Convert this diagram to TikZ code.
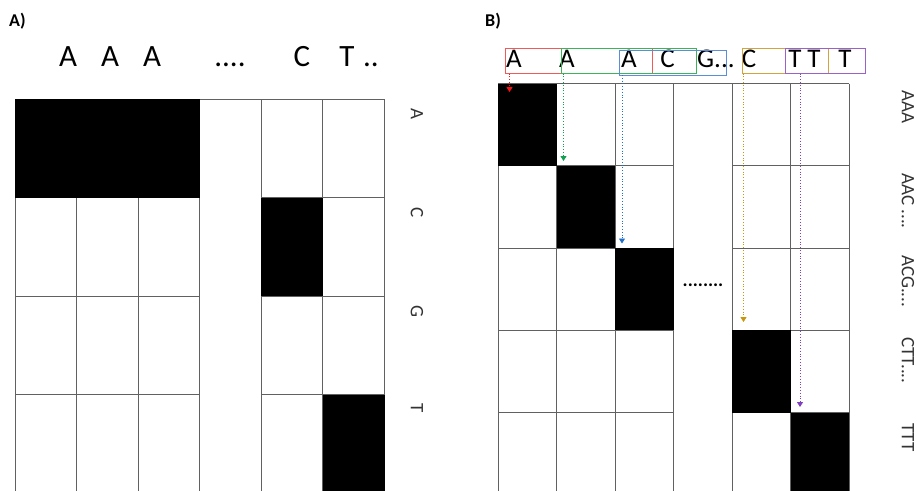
\documentclass[tikz,border=0pt]{standalone}
\usepackage{fontspec}
\setmainfont{Carlito}
\usetikzlibrary{arrows.meta}
\definecolor{bred}{HTML}{F05A5A}
\definecolor{bgreen}{HTML}{3CB45A}
\definecolor{bblue}{HTML}{5B8ED6}
\definecolor{borange}{HTML}{D4A43C}
\definecolor{bpurple}{HTML}{9A62C8}
\definecolor{ared}{HTML}{FF1010}
\definecolor{agreen}{HTML}{10A050}
\definecolor{ablue}{HTML}{2070C8}
\definecolor{aorange}{HTML}{C8960A}
\definecolor{apurple}{HTML}{7F3FBF}
\begin{document}
\begin{tikzpicture}[x=1pt,y=-1pt,
  gridline/.style={draw=black!62,line width=0.9pt},
  blk/.style={fill=black},
  seq/.style={font=\fontsize{27}{27}\selectfont,anchor=base,inner sep=0pt},
  toplbl/.style={font=\fontsize{31}{31}\selectfont,anchor=base,inner sep=0pt},
  sidel/.style={font=\fontsize{19}{19}\selectfont,rotate=-90,inner sep=0pt,text=black!80},
  panel/.style={font=\fontsize{18}{18}\selectfont\bfseries,anchor=base west,inner sep=0pt},
  ptr/.style={dotted,line width=0.8pt,-{Triangle[width=6pt,length=5pt]}},
  kbox/.style={line width=1pt}
]
\useasboundingbox (0,0) rectangle (917,490);
\clip (0,0) rectangle (917,490);
\fill[white] (0,0) rectangle (917,490);

% ---------- Panel A ----------
\node[panel] (pa) at (9,26.7) {A)};
\node[toplbl] (ta1) at (68,66.5) {A};
\node[toplbl] (ta2) at (110,66.5) {A};
\node[toplbl] (ta3) at (152,66.5) {A};
\node[toplbl] (tad) at (230,66.5) {....};
\node[toplbl] (tac) at (302,66.5) {C};
\node[toplbl] (tat) at (347,66.5) {T};
\node[toplbl] (tadd) at (371,66.5) {..};

\foreach \x in {15,76.5,138,199.5,261,322.5,384.5}
  \draw[gridline] (\x,99) -- (\x,495);
\draw[gridline] (15,99) -- (384.5,99);
\foreach \y in {197.5,296,394.5}{
  \draw[gridline] (15,\y) -- (199.5,\y);
  \draw[gridline] (261,\y) -- (384.5,\y);
}
\fill[blk] (15,99) rectangle (199.5,197.5);
\fill[blk] (261,197.5) rectangle (322.5,296);
\fill[blk] (322.5,394.5) rectangle (384.5,495);
\node[sidel] (la) at (417,114) {A};
\node[sidel] (lc) at (417,213) {C};
\node[sidel] (lg) at (417,311) {G};
\node[sidel] (lt) at (417,408) {T};

% ---------- Panel B ----------
\node[panel] (pb) at (485,26.7) {B)};
\foreach \x in {498,556.5,615,673.5,732,790.5,849}
  \draw[gridline] (\x,83.5) -- (\x,496);
\draw[gridline] (498,83.5) -- (849,83.5);
\foreach \y in {165.8,248,330.3,412.5}{
  \draw[gridline] (498,\y) -- (673.5,\y);
  \draw[gridline] (732,\y) -- (849,\y);
}
\fill[blk] (498,83.5) rectangle (556.5,165.8);
\fill[blk] (556.5,165.8) rectangle (615,248);
\fill[blk] (615,248) rectangle (673.5,330.3);
\fill[blk] (732,330.3) rectangle (790.5,412.5);
\fill[blk] (790.5,412.5) rectangle (849,496);
\node[font=\fontsize{19}{19}\selectfont\bfseries,anchor=base,inner sep=0pt] (bdots) at (703,286) {........};

% sequence letters
\node[seq] (s1) at (514,67) {A};
\node[seq] (s2) at (567,67) {A};
\node[seq] (s3) at (629,67) {A};
\node[seq] (s4) at (667.5,67) {C};
\node[seq,anchor=base west] (s5) at (697,67) {G...};
\node[seq] (s6) at (749,67) {C};
\node[seq] (s7) at (795,67) {T};
\node[seq] (s8) at (814,67) {T};
\node[seq] (s9) at (845,67) {T};

% k-mer boxes
\draw[kbox,bred] (505.5,48.5) rectangle (652.5,73.5);
\draw[kbox,bgreen] (561.5,48.5) rectangle (696.5,73.5);
\draw[kbox,bblue] (619.5,50) rectangle (726,75);
\draw[kbox,borange] (742,48.5) rectangle (828.5,73.5);
\draw[kbox,bpurple] (785.5,48.5) rectangle (865.5,73.5);

% pointers
\coordinate (r0) at (509.5,73.5); \coordinate (r1) at (509.5,92);
\coordinate (g0) at (563.5,73.5); \coordinate (g1) at (563.5,161);
\coordinate (b0) at (622,75);     \coordinate (b1) at (622,243.5);
\coordinate (o0) at (743.5,73.5); \coordinate (o1) at (743.5,322);
\coordinate (p0) at (800,73.5);   \coordinate (p1) at (800,407);
\draw[ptr,ared] (r0) -- (r1);
\draw[ptr,agreen] (g0) -- (g1);
\draw[ptr,ablue] (b0) -- (b1);
\draw[ptr,aorange] (o0) -- (o1);
\draw[ptr,apurple] (p0) -- (p1);

% row labels
\node[sidel,anchor=west] (k1) at (908,90) {AAA};
\node[sidel,anchor=west] (k2) at (908,173) {AAC ....};
\node[sidel,anchor=west] (k3) at (908,255) {ACG....};
\node[sidel,anchor=west] (k4) at (908,337) {CTT....};
\node[sidel,anchor=west] (k5) at (908,423) {TTT};
\end{tikzpicture}
\end{document}
